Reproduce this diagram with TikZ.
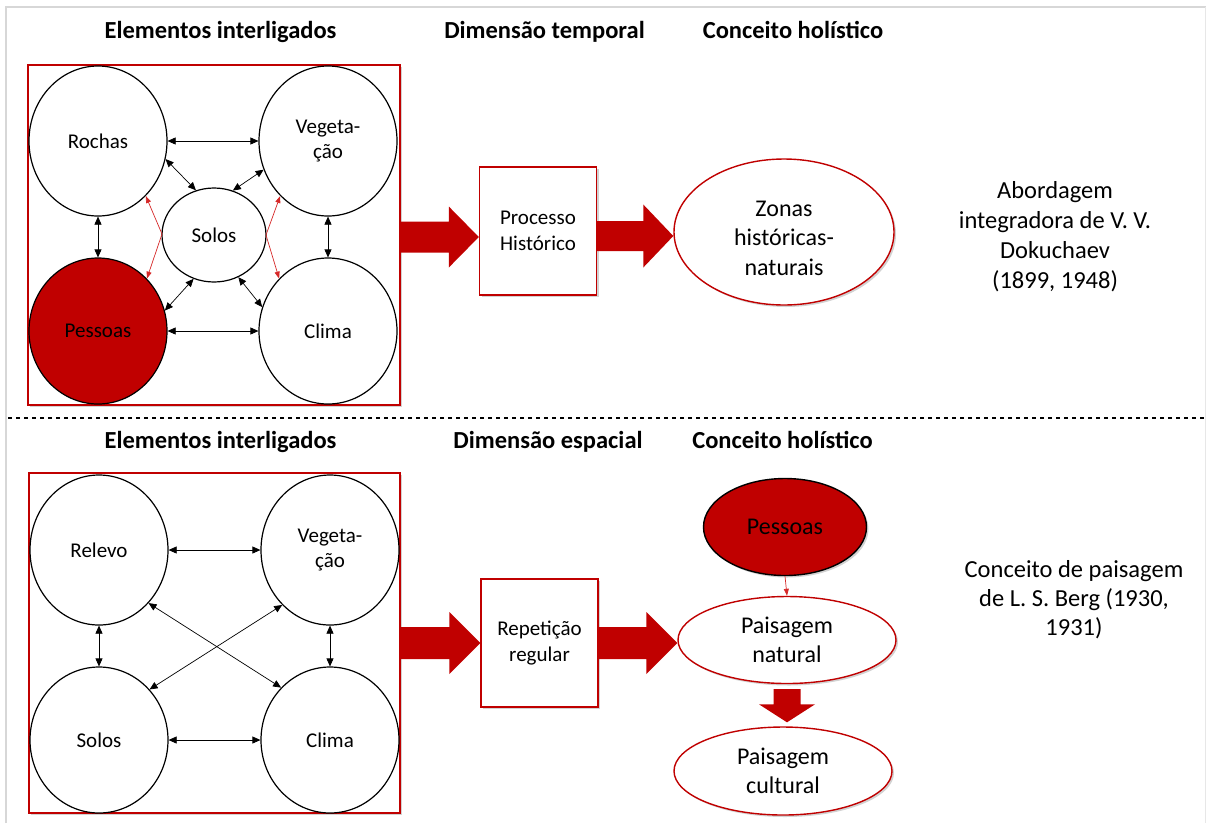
\documentclass[tikz,border=0pt]{standalone}
\usepackage{fontspec}
\setmainfont{Carlito}
\usetikzlibrary{shapes.geometric,arrows.meta,shadows,calc}
\definecolor{darkred}{RGB}{192,0,0}
\definecolor{linkred}{RGB}{214,40,40}
\definecolor{framegray}{RGB}{215,215,215}

% horizontal block arrow: start point, tip point, half body width, half head width, head length
\newcommand\blockarrowh[5]{%
  \fill[darkred] let \p1=#1, \p2=#2 in
    (\x1,\y1+#3) -- (\x2-#5,\y1+#3) -- (\x2-#5,\y1+#4) -- (\x2,\y1)
    -- (\x2-#5,\y1-#4) -- (\x2-#5,\y1-#3) -- (\x1,\y1-#3) -- cycle;}
% vertical (downward) block arrow
\newcommand\blockarrowv[5]{%
  \fill[darkred] let \p1=#1, \p2=#2 in
    (\x1-#3,\y1) -- (\x1-#3,\y2+#5) -- (\x1-#4,\y2+#5) -- (\x1,\y2)
    -- (\x1+#4,\y2+#5) -- (\x1+#3,\y2+#5) -- (\x1+#3,\y1) -- cycle;}

\begin{document}
\begin{tikzpicture}[x=1pt,y=-1pt,
  heading/.style={anchor=base,font=\fontsize{24.5}{29}\selectfont\bfseries},
  note/.style={align=center,font=\fontsize{24.5}{30}\selectfont},
  softshadow/.style={drop shadow={shadow xshift=2pt,shadow yshift=-2pt,opacity=0.25,fill=black!70}},
  panel/.style={rectangle,draw=darkred,line width=1.4pt,fill=white,inner sep=0pt,softshadow},
  circ/.style={ellipse,draw=black,line width=1.2pt,fill=white,inner sep=0pt,
    minimum width=138pt,minimum height=150pt,align=center,font=\fontsize{21}{25.6}\selectfont},
  stagebox/.style={rectangle,draw=darkred,line width=1.4pt,fill=white,inner sep=0pt,
    minimum width=117pt,minimum height=128pt,align=center,font=\fontsize{21}{25.6}\selectfont,softshadow},
  oval/.style={ellipse,draw=darkred,line width=1.4pt,fill=white,inner sep=0pt,
    minimum width=218pt,minimum height=87pt,align=center,font=\fontsize{24}{29.5}\selectfont,softshadow},
  ovaltext/.style={align=center,font=\fontsize{24}{29.5}\selectfont},
  tipk/.tip={Triangle[length=8pt,width=7pt]},
  tipr/.tip={Triangle[length=7pt,width=5pt]},
  link/.style={line width=0.7pt,tipk-tipk},
  redline/.style={draw=linkred,line width=0.7pt}
]
\useasboundingbox (0,0) rectangle (1206,823);

% outer frame
\draw[framegray,line width=2pt] (6,823) -- (6,7) -- (1206,7);
\draw[framegray!60,line width=1pt] (1205,7) -- (1205,823);

% ---------------- upper panel ----------------
\node[heading] (h1) at (220.5,38) {Elementos interligados};
\node[heading] (h2) at (544.5,38) {Dimensão temporal};
\node[heading] (h3) at (793,38) {Conceito holístico};

\node[panel,minimum width=372pt,minimum height=340pt] (topbox) at (214,235) {};
\node[circ] (rochas) at (98,141) {Rochas};
\node[circ] (veg) at (328,141) {Vegeta-\\ção};
\node[circ,fill=darkred,minimum height=146pt] (pessoas) at (98,331) {Pessoas};
\node[circ,minimum height=146pt] (clima) at (328,331) {Clima};
\node[circ,minimum width=104pt,minimum height=94pt] (solos) at (214,235) {Solos};

\draw[link] (rochas.east) -- (veg.west);
\draw[link] (pessoas.east) -- (clima.west);
\draw[link] (rochas.south) -- (pessoas.north);
\draw[link] (veg.south) -- (clima.north);
\draw[link] (rochas.-15) -- (solos.112);
\draw[link] (veg.204) -- (solos.67);
\draw[link] (solos.245) -- (pessoas.17);
\draw[link] (solos.-60) -- (clima.160);

\coordinate (kL) at (162,234);
\coordinate (kR) at (266,235);
\draw[redline,tipr-tipr] (rochas.-49) -- (kL) -- (pessoas.47);
\draw[redline,tipr-tipr] (veg.229) -- (kR) -- (clima.133);

\node[stagebox] (proc) at (538,231) {Processo\\Histórico};
\node[oval,minimum width=220pt,minimum height=146pt] (zonas) at (784,232) {};
\node[ovaltext] (zonastext) at ([yshift=-6pt]zonas.center) {Zonas\\históricas-\\naturais};

\blockarrowh{([yshift=-2pt]topbox.east)}{([yshift=-2pt]topbox.east -| proc.west)}{15.5pt}{30.5pt}{30pt}
\blockarrowh{([yshift=-5pt]proc.east)}{([yshift=-5pt]proc.east -| zonas.west)}{15pt}{31.5pt}{30pt}

\node[note] (dok) at (1055,237) {Abordagem\\integradora de V. V.\\Dokuchaev\\(1899, 1948)};

% separator
\draw[line width=1.2pt,dash pattern=on 4pt off 4pt] (8,418) -- (1206,418);

% ---------------- lower panel ----------------
\node[heading] (h4) at (220.5,448) {Elementos interligados};
\node[heading] (h5) at (548,448) {Dimensão espacial};
\node[heading] (h6) at (782.5,448) {Conceito holístico};

\node[panel,minimum width=371pt,minimum height=340pt] (botbox) at (214.5,643) {};
\node[circ] (relevo) at (99,550) {Relevo};
\node[circ] (veg2) at (330,550) {Vegeta-\\ção};
\node[circ,minimum height=146pt] (solos2) at (99,740) {Solos};
\node[circ,minimum height=146pt] (clima2) at (330,740) {Clima};

\draw[link] (relevo.east) -- (veg2.west);
\draw[link] (solos2.east) -- (clima2.west);
\draw[link] (relevo.south) -- (solos2.north);
\draw[link] (veg2.south) -- (clima2.north);
\draw[link] (relevo.-47) -- (clima2.133);
\draw[link] (veg2.229) -- (solos2.45);

\node[stagebox] (rep) at (539.5,643) {Repetição\\regular};
\node[oval,fill=darkred,draw=black,minimum width=163pt,minimum height=97pt] (pes2) at (785,527) {Pessoas};
\node[oval] (natural) at (787,640) {Paisagem\\natural};
\node[oval,minimum height=88pt] (cultural) at (783,771) {Paisagem\\cultural};

\blockarrowh{(botbox.east)}{(rep.west)}{16pt}{31pt}{31pt}
\blockarrowh{(rep.east)}{(rep.east -| natural.west)}{16pt}{31pt}{31pt}
\blockarrowv{([yshift=-5pt]natural.south)}{([yshift=4pt]natural.south |- cultural.north)}{13.5pt}{28pt}{18pt}
\draw[redline,-tipr] (pes2.south) -- (natural.north);

\node[note,font=\fontsize{24.5}{29}\selectfont] (berg) at (1074,600) {Conceito de paisagem\\de L. S. Berg (1930,\\1931)};
\end{tikzpicture}
\end{document}
